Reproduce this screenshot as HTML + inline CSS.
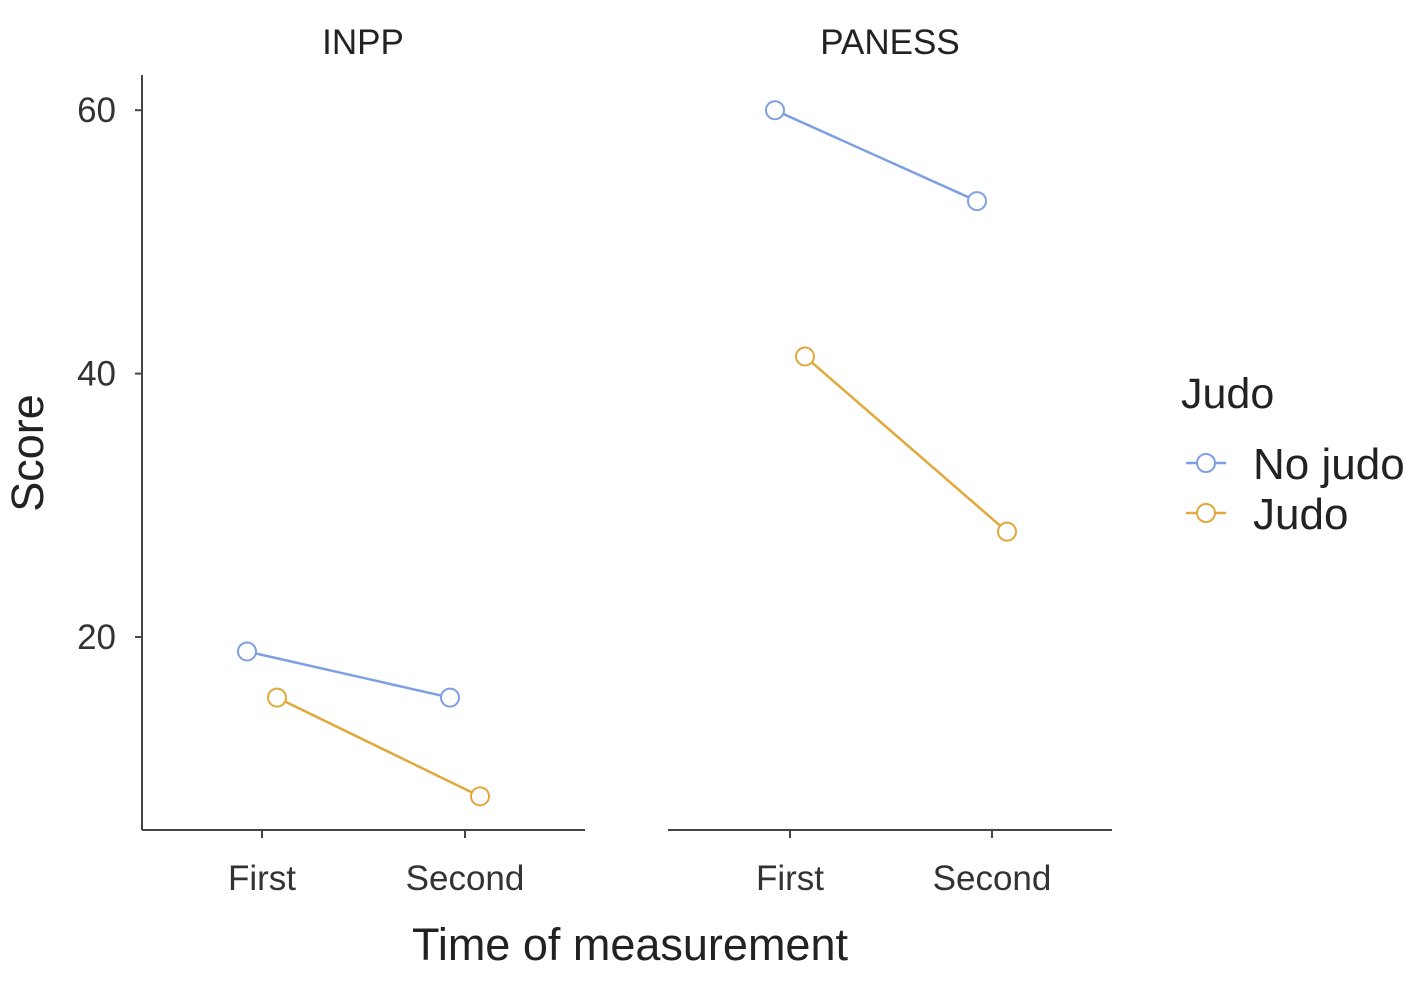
<!DOCTYPE html>
<html><head><meta charset="utf-8"><style>
html,body{margin:0;padding:0;background:#fff;}
svg{display:block;font-family:"Liberation Sans",sans-serif;}
</style></head><body>
<svg id="chart" width="1418" height="987" viewBox="0 0 1418 987">
<g id="g"></g>
</svg>
<script>
const panels = ["INPP","PANESS"];
const times = ["First","Second"];
const groups = ["No judo","Judo"];
const inppNoJudo = [18.9, 15.4];
const inppJudo = [15.4, 7.9];
const panessNoJudo = [60.0, 53.1];
const panessJudo = [41.3, 28.0];
const yTicks = [20, 40, 60];

const series = [[inppNoJudo, inppJudo],[panessNoJudo, panessJudo]];
const colors = ["#7f9fe3","#e1a93c"];
const NS = "http://www.w3.org/2000/svg";
const g = document.getElementById("g");
function el(tag, attrs, parent){const e=document.createElementNS(NS,tag);for(const k in attrs)e.setAttribute(k,attrs[k]);(parent||g).appendChild(e);return e;}
function y(v){return 637 - (v-20)*13.17;}
const panelX = [[142,585],[668,1112]];
const titleX = [363,890];
const timeX = [[262,465],[790,992]];
function x(p,t,gi){return timeX[p][t] + (gi===0?-15:15);}

const ax = el("line",{x1:142,y1:75,x2:142,y2:830,stroke:"#444","stroke-width":2});


yTicks.forEach(v=>{
  const t=el("line",{x1:135,y1:y(v),x2:142,y2:y(v),stroke:"#444","stroke-width":2});
  
  
  const l=el("text",{x:116,y:y(v)+12,"text-anchor":"end","font-size":35,fill:"#333"});
  l.textContent=v;
  
  
});
panels.forEach((p,pi)=>{
  const a=el("line",{x1:panelX[pi][0],y1:830,x2:panelX[pi][1],y2:830,stroke:"#444","stroke-width":2});
  
  
  const title=el("text",{x:titleX[pi],y:54,"text-anchor":"middle","font-size":35,fill:"#222"});
  title.textContent=p;
  
  
  times.forEach((t,ti)=>{
    const tk=el("line",{x1:timeX[pi][ti],y1:830,x2:timeX[pi][ti],y2:838,stroke:"#444","stroke-width":2});
    
    
    const tl=el("text",{x:timeX[pi][ti],y:890,"text-anchor":"middle","font-size":35,fill:"#333"});
    tl.textContent=t;
    
    
  });
  series[pi].forEach((vals,gi)=>{
    const ln=el("line",{x1:x(pi,0,gi),y1:y(vals[0]),x2:x(pi,1,gi),y2:y(vals[1]),stroke:colors[gi],"stroke-width":2.5});
    
    
    vals.forEach((v,ti)=>{
      const c=el("circle",{cx:x(pi,ti,gi),cy:y(v),r:9,fill:"#fff",stroke:colors[gi],"stroke-width":2});
      
      
    });
  });
});
const xt=el("text",{x:630,y:960,"text-anchor":"middle","font-size":45,fill:"#222"});
xt.textContent="Time of measurement";


const yt=el("text",{x:0,y:0,"text-anchor":"middle","font-size":45,fill:"#222",transform:"translate(43,453) rotate(-90)"});
yt.textContent="Score";


const lt=el("text",{x:1181,y:408,"font-size":43,fill:"#222"});
lt.textContent="Judo";


groups.forEach((gname,gi)=>{
  const cy=463+gi*50;
  const l=el("line",{x1:1186,y1:cy,x2:1226,y2:cy,stroke:colors[gi],"stroke-width":2.5});
  
  
  const c=el("circle",{cx:1206,cy:cy,r:9,fill:"#fff",stroke:colors[gi],"stroke-width":2});
  
  
  const t=el("text",{x:1253,y:cy+16,"font-size":44,fill:"#222"});
  t.textContent=gname;
  
  
});
</script>
</body></html>
